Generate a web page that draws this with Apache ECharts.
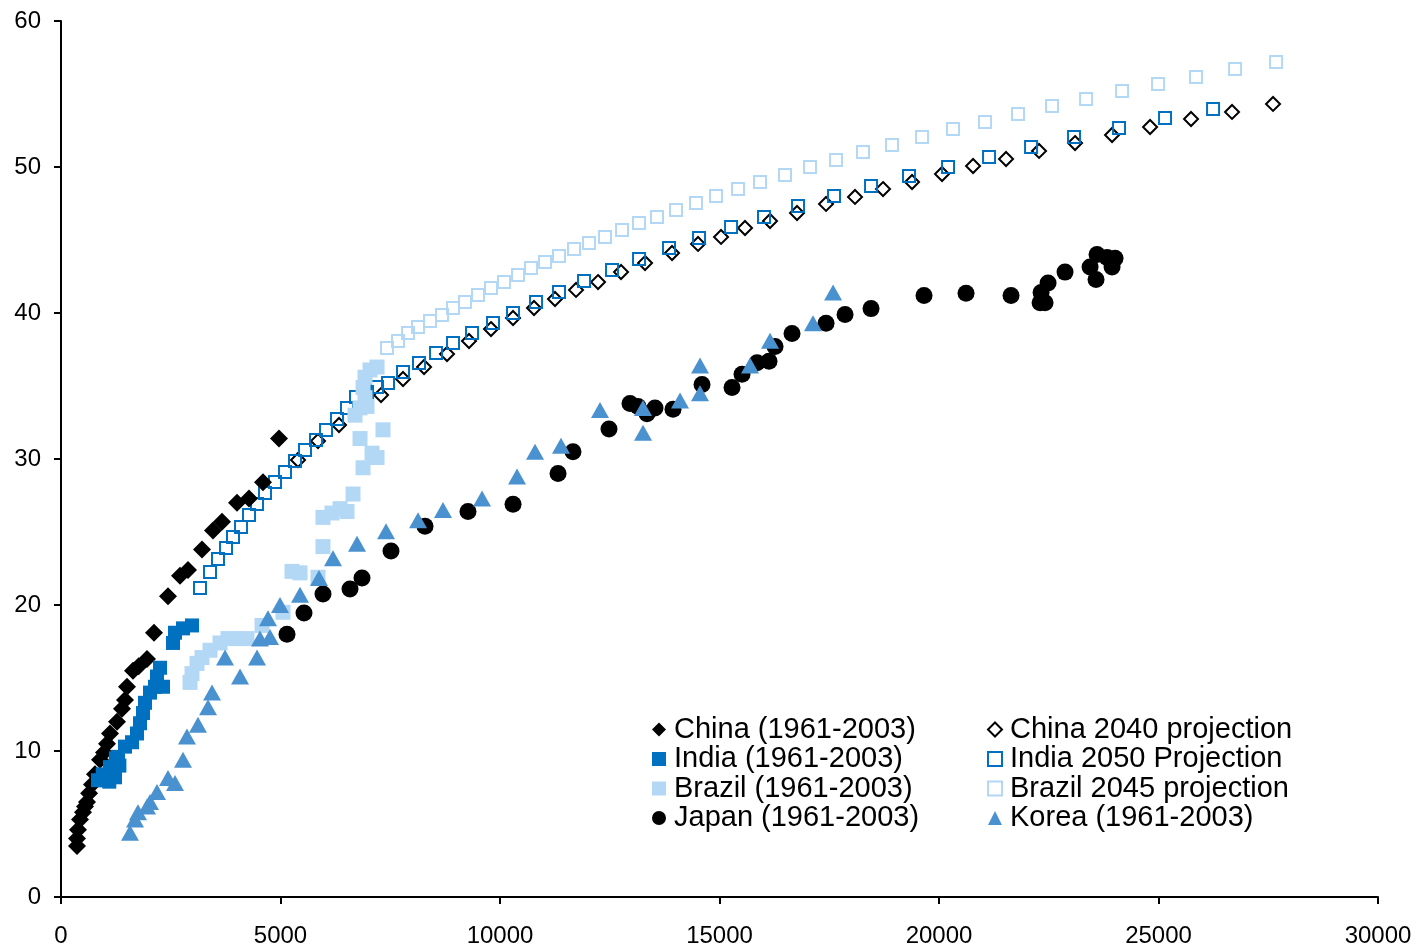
<!DOCTYPE html>
<html>
<head>
<meta charset="utf-8">
<script src="https://cdn.jsdelivr.net/npm/echarts@6/dist/echarts.min.js"></script>
<style>
  html, body { margin: 0; padding: 0; background: #fff; }
  #chart { width: 1418px; height: 949px; }
</style>
</head>
<body>
<div id="chart"></div>
<script>
// Per-capita income (x) against consumption (y), 1961-2003 history and projections.
const chinaHist = [[364,3.5],[364,4.0],[387,4.6],[433,5.3],[501,5.8],[547,6.2],[592,6.5],[640,7.1],[706,7.7],[775,8.4],[888,9.4],[980,9.9],[1048,10.5],[1116,11.2],[1276,12.0],[1390,12.9],[1458,13.5],[1503,14.4],[1640,15.5],[1770,15.8],[1959,16.3],[2118,18.1],[2437,20.6],[2711,22.0],[2893,22.4],[3212,23.8],[3462,25.1],[3668,25.7],[4009,27.0],[4283,27.3],[4601,28.4],[4966,31.4]];
const indiaHist = [[843,8.0],[950,8.4],[1002,8.0],[1100,7.9],[1150,8.5],[1230,8.2],[1116,8.9],[1250,9.5],[1330,9.0],[1298,9.6],[1458,10.3],[1617,10.6],[1731,11.2],[1800,11.9],[1868,12.6],[1914,13.3],[2027,14.0],[2141,14.4],[2323,14.4],[2187,15.1],[2255,15.7],[2551,17.4],[2597,18.1],[2779,18.4],[2984,18.6]];
const brazilHist = [[2939,14.7],[2984,15.3],[3098,16.0],[3212,16.4],[3394,16.9],[3622,17.4],[3804,17.7],[4009,17.7],[4237,17.7],[4579,18.6],[5057,19.5],[5262,22.3],[5444,22.2],[5854,21.9],[5968,24.0],[5968,26.0],[6173,26.3],[6356,26.6],[6515,26.4],[6652,27.6],[6880,29.4],[7085,30.4],[7199,30.1],[6811,31.4],[7335,32.0],[6697,33.0],[6811,33.5],[6970,33.6],[6925,34.2],[6880,34.9],[6925,35.6],[7039,36.1],[7199,36.3]];
const japanHist = [[5148,18.0],[5535,19.45],[5968,20.75],[6583,21.1],[6857,21.85],[7517,23.7],[8292,25.4],[9271,26.4],[10297,26.9],[11322,29.0],[11663,30.5],[12483,32.05],[12961,33.8],[13144,33.6],[13349,33.1],[13531,33.5],[13941,33.4],[14602,35.1],[15285,34.9],[15513,35.8],[15855,36.6],[16128,36.7],[16265,37.7],[16652,38.6],[17427,39.3],[17860,39.9],[18452,40.3],[19659,41.2],[20616,41.35],[21641,41.2],[22302,40.7],[22416,40.7],[22325,41.4],[22484,42.05],[22871,42.8],[23441,43.15],[23577,42.3],[23600,44.0],[23828,43.8],[23942,43.15],[24010,43.75]];
const koreaHist = [[1572,4.4],[1686,5.3],[1754,5.8],[1959,6.2],[2027,6.5],[2187,7.2],[2437,8.15],[2597,7.8],[2779,9.4],[2870,11.0],[3121,11.8],[3349,13.0],[3440,14.0],[3736,16.4],[4078,15.1],[4465,16.4],[4533,17.7],[4761,17.8],[4715,19.1],[4989,20.0],[5444,20.7],[5877,21.85],[6196,23.2],[6743,24.2],[7404,25.05],[8133,25.8],[8702,26.5],[9590,27.3],[10388,28.8],[10798,30.5],[11390,30.9],[12278,33.35],[13258,33.5],[13258,31.8],[14101,34.0],[14556,36.4],[14556,34.5],[15695,36.4],[16151,38.1],[17130,39.3],[17587,41.4]];
const chinaProj = [[5399,29.93],[5854,31.23],[6333,32.33],[6788,33.36],[7290,34.38],[7791,35.48],[8270,36.30],[8793,37.19],[9294,38.08],[9795,38.90],[10297,39.66],[10775,40.34],[11253,40.96],[11732,41.58],[12233,42.12],[12757,42.81],[13304,43.42],[13919,44.11],[14511,44.73],[15035,45.21],[15581,45.82],[16151,46.30],[16766,46.85],[17427,47.47],[18087,47.95],[18725,48.49],[19386,48.97],[20069,49.52],[20776,50.07],[21527,50.55],[22279,51.10],[23099,51.64],[23942,52.19],[24808,52.74],[25741,53.29],[26675,53.77],[27609,54.32]];
const indiaProj = [[3166,21.16],[3394,22.26],[3576,23.15],[3759,23.90],[3918,24.66],[4101,25.34],[4283,26.16],[4465,26.92],[4647,27.67],[4875,28.42],[5103,29.11],[5330,29.86],[5558,30.62],[5809,31.30],[6037,31.99],[6287,32.74],[6515,33.49],[6720,34.25],[6971,34.59],[7198,34.93],[7449,35.21],[7791,35.96],[8155,36.58],[8543,37.26],[8930,37.95],[9363,38.63],[9841,39.32],[10297,40.00],[10821,40.75],[11344,41.44],[11914,42.19],[12552,42.95],[13167,43.70],[13850,44.45],[14534,45.14],[15263,45.89],[16014,46.58],[16789,47.33],[17609,48.01],[18452,48.70],[19317,49.38],[20206,50.00],[21140,50.68],[22097,51.37],[23076,52.05],[24101,52.67],[25149,53.36],[26243,53.97]];
const brazilProj = [[7426,37.60],[7677,38.08],[7905,38.63],[8133,39.04],[8406,39.45],[8679,39.86],[8930,40.34],[9203,40.75],[9499,41.23],[9795,41.71],[10092,42.12],[10411,42.60],[10707,43.08],[11026,43.49],[11344,43.90],[11686,44.38],[12028,44.79],[12392,45.21],[12780,45.68],[13167,46.16],[13577,46.58],[14010,47.05],[14465,47.53],[14921,48.01],[15422,48.49],[15923,48.97],[16493,49.45],[17062,50.00],[17655,50.48],[18270,51.03],[18930,51.51],[19614,52.05],[20320,52.60],[21049,53.08],[21800,53.63],[22575,54.18],[23350,54.66],[24170,55.21],[24990,55.68],[25855,56.16],[26744,56.71],[27678,57.19]];

const xTicks = { min: 0, max: 30000, interval: 5000 };
const yTicks = { min: 0, max: 60, interval: 10 };

const names = {
  chinaHist: 'China (1961-2003)',
  indiaHist: 'India (1961-2003)',
  brazilHist: 'Brazil (1961-2003)',
  japanHist: 'Japan (1961-2003)',
  chinaProj: 'China 2040 projection',
  indiaProj: 'India 2050 Projection',
  brazilProj: 'Brazil 2045 projection',
  koreaHist: 'Korea (1961-2003)'
};

const FONT = '"Liberation Sans", Arial, sans-serif';
const chart = echarts.init(document.getElementById('chart'), null, { renderer: 'canvas' });

function scatter(name, data, symbol, size, itemStyle) {
  return {
    type: 'scatter', name, data, symbol, symbolSize: size,
    itemStyle: Object.assign({ opacity: 1 }, itemStyle),
    emphasis: { disabled: true }, animation: false
  };
}

const legendBase = {
  orient: 'vertical', itemWidth: 14, itemHeight: 14, itemGap: 0.5,
  textStyle: { fontFamily: FONT, fontSize: 29, lineHeight: 28, color: '#000', padding: [0, 0, 0, 3] },
  selectedMode: false, top: 710
};

const axisCommon = {
  type: 'value',
  axisLine: { show: true, lineStyle: { color: '#000', width: 2 } },
  axisTick: { show: true, length: 7, lineStyle: { color: '#000', width: 2 } },
  splitLine: { show: false }
};

chart.setOption({
  backgroundColor: '#fff',
  animation: false,
  grid: { left: 61, right: 40, top: 21, bottom: 52 },
  xAxis: Object.assign({}, axisCommon, {
    min: xTicks.min, max: xTicks.max, interval: xTicks.interval,
    axisLabel: { color: '#000', fontFamily: FONT, fontSize: 24, margin: 27, formatter: v => String(v) }
  }),
  yAxis: Object.assign({}, axisCommon, {
    min: yTicks.min, max: yTicks.max, interval: yTicks.interval,
    axisLabel: { color: '#000', fontFamily: FONT, fontSize: 24, margin: 20, formatter: v => String(v) }
  }),
  legend: [
    Object.assign({}, legendBase, { left: 647, data: [names.chinaHist, names.indiaHist, names.brazilHist, names.japanHist] }),
    Object.assign({}, legendBase, { left: 982, data: [names.chinaProj, names.indiaProj, names.brazilProj, names.koreaHist] })
  ],
  series: [
    scatter(names.chinaProj, chinaProj, 'diamond', 14, { color: 'rgba(255,255,255,0)', borderColor: '#000', borderWidth: 2 }),
    scatter(names.indiaProj, indiaProj, 'rect', 12, { color: 'rgba(255,255,255,0)', borderColor: '#0070C0', borderWidth: 2 }),
    scatter(names.brazilProj, brazilProj, 'rect', 12, { color: 'rgba(255,255,255,0)', borderColor: '#B3D8F5', borderWidth: 2 }),
    scatter(names.chinaHist, chinaHist, 'diamond', 18, { color: '#000' }),
    scatter(names.indiaHist, indiaHist, 'rect', 14, { color: '#0070C0' }),
    scatter(names.brazilHist, brazilHist, 'rect', 15, { color: '#B3D8F5' }),
    scatter(names.japanHist, japanHist, 'circle', 17, { color: '#000' }),
    scatter(names.koreaHist, koreaHist, 'triangle', [18, 16], { color: '#4A92CF' })
  ]
});
</script>
</body>
</html>
